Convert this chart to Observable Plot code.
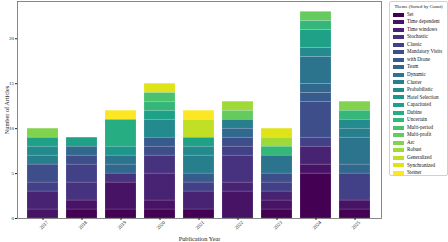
<!DOCTYPE html>
<html><head><meta charset="utf-8">
<script src="https://cdn.jsdelivr.net/npm/d3@7"></script>
<script src="https://cdn.jsdelivr.net/npm/@observablehq/plot@0.6"></script>
<style>
body{margin:0;background:#fff;font-family:"Liberation Serif",serif;}
#wrap{position:relative;width:448px;height:242px;overflow:hidden;}
#legend{position:absolute;left:389px;top:1px;width:59px;height:175px;border:0.7px solid #d0d0d0;border-radius:2px;background:#fff;box-sizing:border-box;font-size:5.1px;color:#111;}
#legend .title{position:absolute;left:0;width:100%;text-align:center;top:1.5px;line-height:6px;font-size:4.7px;white-space:nowrap;}
#legend .item{position:absolute;left:3px;height:6px;line-height:6px;white-space:nowrap;}
#legend .sw{display:inline-block;width:11px;height:4px;vertical-align:middle;margin-right:3px;}
g[aria-label="x-axis label"] text, g[aria-label="y-axis label"] text{font-size:6.3px;}
</style>
</head><body><div id="wrap"></div>
<script>
const years = [2017, 2018, 2019, 2020, 2021, 2022, 2023, 2024, 2025];
const themes = ["Set","Time dependent","Time windows","Stochastic","Classic","Mandatory Visits","with Drone","Team","Dynamic","Cluster","Probabilistic","Hotel Selection","Capacitated","Dubins","Uncertain","Multi-period","Multi-profit","Arc","Robust","Generalized","Synchronized","Steiner"];
// counts[theme][year index]
const counts = [
  [0,1,1,1,1,0,1,5,1], // Set
  [1,1,3,1,0,3,1,1,1], // Time dependent
  [2,0,0,3,2,1,1,2,0], // Time windows
  [0,2,1,2,0,3,0,0,0], // Stochastic
  [1,2,0,0,1,1,1,1,3], // Classic
  [2,1,0,1,0,1,1,4,0], // Mandatory Visits
  [0,0,0,1,1,0,0,1,0], // with Drone
  [0,1,1,0,0,1,0,1,1], // Team
  [0,0,1,0,0,0,2,3,3], // Dynamic
  [1,0,0,0,2,1,0,0,1], // Cluster
  [1,0,0,2,1,0,0,1,1], // Probabilistic
  [0,0,1,0,0,0,0,0,0], // Hotel Selection
  [1,1,0,1,1,0,0,2,0], // Capacitated
  [0,0,3,0,0,0,0,0,0], // Dubins
  [0,0,0,1,0,0,1,1,1], // Uncertain
  [0,0,0,1,0,0,0,0,0], // Multi-period
  [0,0,0,0,0,1,0,1,0], // Multi-profit
  [1,0,0,0,0,0,0,0,1], // Arc
  [0,0,0,0,0,1,1,0,0], // Robust
  [0,0,0,0,2,0,0,0,0], // Generalized
  [0,0,0,1,0,0,1,0,0], // Synchronized
  [0,0,1,0,1,0,0,0,0]  // Steiner
];
const yTicks = [0, 5, 10, 15, 20];

const colors = themes.map((d, i) => d3.interpolateViridis(i / (themes.length - 1)));
const rows = [];
themes.forEach((t, i) => years.forEach((y, j) => {
  if (counts[i][j] > 0) rows.push({year: String(y), theme: t, count: counts[i][j]});
}));

const chart = Plot.plot({
  width: 448, height: 242,
  marginLeft: 17, marginRight: 67, marginTop: 1, marginBottom: 24,
  style: {fontFamily: "Liberation Serif, serif", fontSize: "5px", background: "white", color: "#222"},
  x: {domain: years.map(String), paddingInner: 0.2, paddingOuter: 0.25},
  y: {domain: [0, 24.15]},
  color: {domain: themes, range: colors},
  marks: [
    Plot.barY(rows, {x: "year", y: "count", fill: "theme", order: themes, stroke: "white", strokeWidth: 0.4, strokeOpacity: 0.35}),
    Plot.frame({stroke: "#6a6a6a", strokeWidth: 0.8}),
    Plot.axisX({tickSize: 2, text: null, label: null}),
    Plot.axisX({tickSize: 0, tickRotate: -45, tickPadding: 2, dx: 4.5, dy: 1, label: "Publication Year", labelAnchor: "center", labelArrow: "none", labelOffset: 22}),
    Plot.axisY({ticks: yTicks, tickSize: 2, tickPadding: 1.5, label: "Number of Articles", labelAnchor: "center", labelArrow: "none", labelOffset: 13})
  ]
});
const wrap = document.getElementById("wrap");
wrap.appendChild(chart);

const leg = document.createElement("div");
leg.id = "legend";
const title = document.createElement("div");
title.className = "title";
title.textContent = "Theme (Sorted by Count)";
leg.appendChild(title);
themes.forEach((t, i) => {
  const it = document.createElement("div");
  it.className = "item";
  it.style.top = (8.7 + i * 7.54) + "px";
  const sw = document.createElement("span");
  sw.className = "sw";
  sw.style.background = colors[i];
  it.appendChild(sw);
  it.appendChild(document.createTextNode(t));
  leg.appendChild(it);
});
wrap.appendChild(leg);
</script>
</body></html>
